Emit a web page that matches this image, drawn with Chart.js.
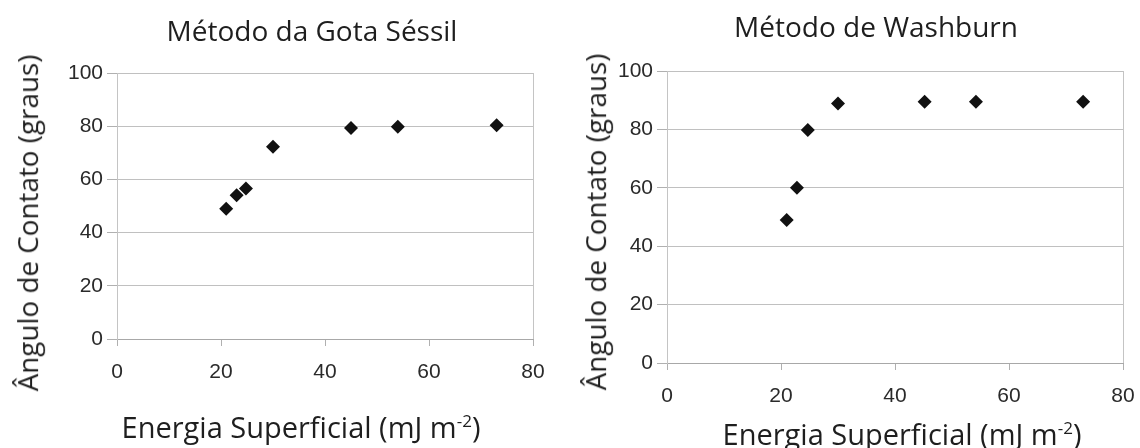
<!DOCTYPE html>
<html>
<head>
<meta charset="utf-8">
<script src="https://cdn.jsdelivr.net/npm/chart.js@4"></script>
<style>
  body { margin: 0; background: #fff; }
  #lienzo { position: relative; width: 1140px; height: 448px; overflow: hidden; }
  .graf { position: absolute; top: 0; width: 570px; height: 448px; }
  .texto { position: absolute; font-family: 'Open Sans', 'Noto Sans', sans-serif; color: #1e1e1e; white-space: nowrap; line-height: 1; transform: translate(-50%, -50%); }
  .titulo { font-size: 28px; }
  .ejeX { font-size: 29px; }
  .ejeY { font-size: 27.8px; transform: translate(-50%, -50%) rotate(-90deg); }
  sup { font-size: 17px; }
</style>
</head>
<body>
<div id="lienzo">
  <div class="graf" style="left:0"><canvas id="gotaSessil"></canvas></div>
  <div class="graf" style="left:570px"><canvas id="washburn"></canvas></div>
  <div class="texto titulo" style="left:312px;top:30px">Método da Gota Séssil</div>
  <div class="texto titulo" style="left:876px;top:26px">Método de Washburn</div>
  <div class="texto ejeX" style="left:301px;top:426px">Energia Superficial (mJ m<sup>-2</sup>)</div>
  <div class="texto ejeX" style="left:902px;top:433px">Energia Superficial (mJ m<sup>-2</sup>)</div>
  <div class="texto ejeY" style="left:28px;top:223px">Ângulo de Contato (graus)</div>
  <div class="texto ejeY" style="left:596px;top:222px">Ângulo de Contato (graus)</div>
</div>
<script>
// energia superficial (mJ m-2) vs angulo de contato (graus)
const energiaGota = [21, 23, 24.8, 30, 45, 54, 73];
const anguloGota = [49, 54, 56.6, 72.3, 79.3, 79.8, 80.4];
const energiaWash = [21, 22.8, 24.7, 30, 45.2, 54.2, 73];
const anguloWash = [49, 60, 79.8, 88.9, 89.5, 89.5, 89.5];
const ticksX = [0, 20, 40, 60, 80];
const ticksY = [0, 20, 40, 60, 80, 100];

function puntos(xs, ys){
    let p = [];
    for(let i = 0; i < xs.length; i++){ p.push({x: xs[i], y: ys[i]}); }
    return p;
}

function graficar(id, xs, ys, caja){
    new Chart(document.getElementById(id).getContext('2d'), {
        type: 'scatter',
        data: {
            datasets: [{
                data: puntos(xs, ys),
                pointStyle: 'rectRot',
                pointRadius: 7,
                backgroundColor: '#111',
                borderColor: '#111',
                borderWidth: 0
            }]
        },
        options: {
            responsive: true,
            maintainAspectRatio: false,
            animation: false,
            layout: { padding: { top: caja.arriba, right: caja.derecha, left: 0, bottom: 0 } },
            plugins: { legend: { display: false }, tooltip: { enabled: false }, title: { display: false } },
            scales: {
                x: {
                    type: 'linear', min: 0, max: 80,
                    afterBuildTicks: (eje) => { eje.ticks = ticksX.map(v => ({value: v})); },
                    // el alto fijo y sin relleno lateral para que el area quede donde la imagen
                    afterFit: (eje) => { eje.height = caja.altoX; eje.paddingLeft = 0; eje.paddingRight = 0; },
                    ticks: { color: '#2a2a2a', font: { family: 'Liberation Sans', size: 21 }, padding: 14 },
                    grid: {
                        color: (c) => (c.tick && c.tick.value === 80) ? '#c4c4c4' : 'rgba(0,0,0,0)',
                        tickColor: '#b0b0b0', tickLength: 7
                    },
                    border: { color: '#a8a8a8' }
                },
                y: {
                    type: 'linear', min: 0, max: 100,
                    afterBuildTicks: (eje) => { eje.ticks = ticksY.map(v => ({value: v})); },
                    afterFit: (eje) => { eje.width = caja.anchoY; eje.paddingTop = 0; eje.paddingBottom = 0; },
                    ticks: { color: '#2a2a2a', font: { family: 'Liberation Sans', size: 21 }, padding: 4 },
                    grid: { color: '#c0c0c0', tickColor: '#b0b0b0', tickLength: 10 },
                    border: { color: '#c4c4c4' }
                }
            }
        }
    });
}

graficar('gotaSessil', energiaGota, anguloGota, { arriba: 73, derecha: 37, altoX: 109, anchoY: 117 });
graficar('washburn', energiaWash, anguloWash, { arriba: 71, derecha: 17, altoX: 85, anchoY: 97 });
</script>
</body>
</html>
